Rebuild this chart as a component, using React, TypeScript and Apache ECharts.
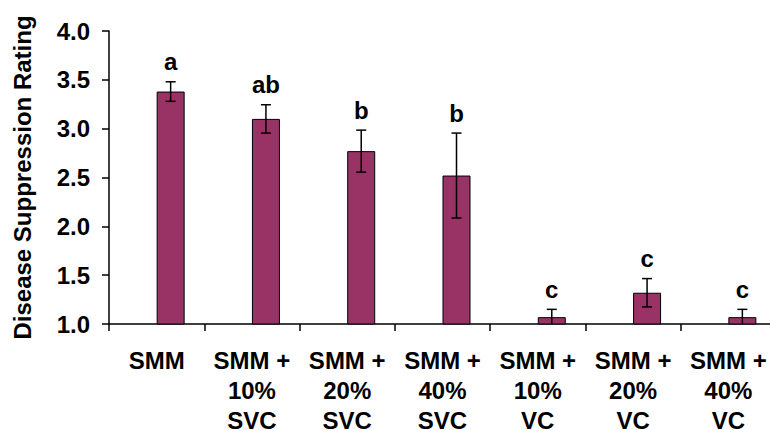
import React, { useEffect, useRef } from "react";
import * as echarts from "echarts";

// Treatments along the x axis
const categories = [
  "SMM",
  "SMM +\n10%\nSVC",
  "SMM +\n20%\nSVC",
  "SMM +\n40%\nSVC",
  "SMM +\n10%\nVC",
  "SMM +\n20%\nVC",
  "SMM +\n40%\nVC",
];

// Mean disease suppression rating per treatment
const means = [3.38, 3.1, 2.77, 2.52, 1.07, 1.32, 1.07];

// Half-width of each error bar
const errors = [0.1, 0.145, 0.215, 0.435, 0.08, 0.145, 0.08];

// Significance groups shown above each bar
const letters = ["a", "ab", "b", "b", "c", "c", "c"];

const FONT = '"Liberation Sans", Arial, Helvetica, sans-serif';
const FS = 24;
const BAR_W = 28;

export default function App() {
  const ref = useRef<HTMLDivElement>(null);

  useEffect(() => {
    if (!ref.current) return;
    const chart = echarts.init(ref.current, null, { renderer: "svg" });

    const errData = means.map((m, i) => [i, m - errors[i], m + errors[i], letters[i]]);

    chart.setOption({
      animation: false,
      backgroundColor: "#ffffff",
      grid: {
        left: 109,
        top: 31,
        width: 667,
        height: 293,
        containLabel: false,
        outerBoundsMode: "none",
      },
      xAxis: {
        type: "category",
        data: categories,
        boundaryGap: true,
        axisLine: { lineStyle: { color: "#000", width: 1.5 } },
        axisTick: { show: true, length: 7, lineStyle: { color: "#000", width: 1.5 } },
        axisLabel: {
          color: "#000",
          fontFamily: FONT,
          fontWeight: "bold",
          fontSize: FS,
          lineHeight: 30,
          margin: 21,
          interval: 0,
          align: "center",
        },
      },
      yAxis: {
        type: "value",
        min: 1,
        max: 4,
        interval: 0.5,
        name: "Disease Suppression Rating",
        nameLocation: "middle",
        nameRotate: 90,
        nameGap: 75,
        nameTextStyle: {
          color: "#000",
          fontFamily: FONT,
          fontWeight: "bold",
          fontSize: FS,
        },
        axisLine: { show: true, lineStyle: { color: "#000", width: 1.5 } },
        axisTick: { show: true, length: 7, lineStyle: { color: "#000", width: 1.5 } },
        splitLine: { show: false },
        axisLabel: {
          color: "#000",
          fontFamily: FONT,
          fontWeight: "bold",
          fontSize: FS,
          margin: 19,
          formatter: (v: number) => v.toFixed(1),
        },
      },
      series: [
        {
          // empty companion series: keeps the plotted bar to the right of each category centre
          type: "bar",
          data: categories.map(() => "-"),
          barWidth: BAR_W,
          barGap: "0%",
        },
        {
          type: "bar",
          data: means,
          barWidth: BAR_W,
          barGap: "0%",
          itemStyle: { color: "#993366", borderColor: "#000", borderWidth: 1 },
        },
        {
          type: "custom",
          clip: true,
          data: errData,
          encode: { x: 0, y: [1, 2] },
          z: 10,
          renderItem: (params: any, api: any) => {
            const idx = api.value(0);
            const lo = api.coord([idx, api.value(1)]);
            const hi = api.coord([idx, api.value(2)]);
            const x = lo[0] + BAR_W / 2;
            const cap = 5;
            const ls = { stroke: "#000", lineWidth: 1.5 };
            return {
              type: "group",
              children: [
                { type: "line", shape: { x1: x, y1: lo[1], x2: x, y2: hi[1] }, style: ls },
                { type: "line", shape: { x1: x - cap, y1: hi[1], x2: x + cap, y2: hi[1] }, style: ls },
                { type: "line", shape: { x1: x - cap, y1: lo[1], x2: x + cap, y2: lo[1] }, style: ls },
                {
                  type: "text",
                  style: {
                    text: letters[params.dataIndex],
                    x,
                    y: hi[1] - 20,
                    textAlign: "center",
                    textVerticalAlign: "middle",
                    fill: "#000",
                    font: `bold ${FS}px ${FONT}`,
                  },
                },
              ],
            };
          },
        },
      ],
    });

    return () => chart.dispose();
  }, []);

  return (
    <div
      ref={ref}
      style={{ position: "fixed", left: 0, top: 0, width: 770, height: 430, background: "#fff" }}
    />
  );
}
